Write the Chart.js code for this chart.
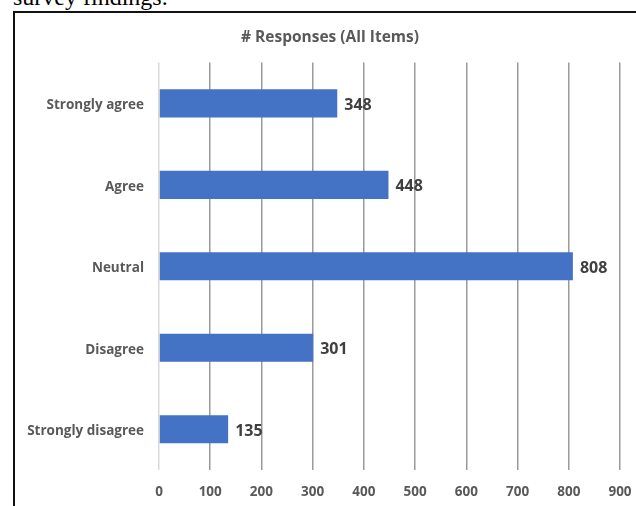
<!DOCTYPE html>
<html>
<head>
<meta charset="utf-8">
<script src="https://cdn.jsdelivr.net/npm/chart.js@4"></script>
<style>
    html, body { margin: 0; padding: 0; background: #fff; overflow: hidden; }
    body { width: 636px; height: 506px; position: relative; }
    .caption {
        position: absolute; left: 13px; top: -15px;
        font: 24px/1 "Liberation Serif", "Times New Roman", serif;
        color: #000; white-space: nowrap;
    }
    .frame {
        position: absolute; left: 13px; top: 11px; width: 700px; height: 600px;
        border-left: 2px solid #111; border-top: 2px solid #111;
    }
    #chartBox { position: absolute; left: 0; top: 0; width: 636px; height: 506px; }
</style>
</head>
<body>
<div class="caption">survey findings.</div>
<div class="frame"></div>
<div id="chartBox"><canvas id="responsesChart"></canvas></div>

<script>
// Responses chart
const categories = ['Strongly agree', 'Agree', 'Neutral', 'Disagree', 'Strongly disagree'];
const responses = [348, 448, 808, 301, 135];
const xTicks = [0, 100, 200, 300, 400, 500, 600, 700, 800, 900];

const fontFamily = '"Open Sans", Lato, sans-serif';

/* ---------------------------
   VALUE LABELS
---------------------------*/
const valueLabels = {
    id: 'valueLabels',
    afterLayout(chart) {
        // title sits centred on the whole frame, not the padded canvas
        const t = chart.titleBlock;
        if (t) { t.left += 15; t.right += 15; }
    },
    afterDatasetsDraw(chart) {
        const ctx = chart.ctx;
        const meta = chart.getDatasetMeta(0);
        ctx.save();
        ctx.font = 'bold 16px ' + fontFamily;
        ctx.fillStyle = '#404040';
        ctx.textAlign = 'left';
        ctx.textBaseline = 'middle';
        meta.data.forEach((bar, i) => {
            ctx.fillText(responses[i], bar.x + 7, bar.y + 2);
        });
        ctx.restore();
    }
};

function initializeChart() {
    const ctx = document.getElementById('responsesChart');
    if (!ctx) return;

    return new Chart(ctx, {
        type: 'bar',
        data: {
            labels: categories,
            datasets: [{
                label: '# Responses',
                data: responses,
                backgroundColor: '#4472c4',
                borderWidth: 0,
                categoryPercentage: 1,
                barPercentage: 0.345
            }]
        },
        options: {
            indexAxis: 'y',
            responsive: true,
            maintainAspectRatio: false,
            animation: false,
            layout: {
                padding: { left: 10, right: 16, top: 0, bottom: 0 }
            },
            plugins: {
                legend: { display: false },
                tooltip: { enabled: false },
                title: {
                    display: true,
                    text: '# Responses (All Items)',
                    color: '#595959',
                    font: { family: fontFamily, size: 15.5, weight: 'bold' },
                    padding: { top: 28, bottom: 16 }
                }
            },
            scales: {
                x: {
                    min: 0,
                    max: 900,
                    afterBuildTicks: scale => {
                        scale.ticks = xTicks.map(v => ({ value: v }));
                    },
                    afterFit: scale => {
                        scale.height = 36;
                        scale.paddingLeft = 0;
                        scale.paddingRight = 0;
                    },
                    border: { display: false },
                    grid: {
                        drawTicks: false,
                        lineWidth: 1.5,
                        color: c => (c.tick && c.tick.value === 0) ? '#d9d9d9' : '#9a9a9a'
                    },
                    ticks: {
                        padding: 14,
                        color: '#595959',
                        font: { family: fontFamily, size: 13.5, weight: 'bold' }
                    }
                },
                y: {
                    afterFit: scale => { scale.width = 149; },
                    border: { display: false },
                    grid: { display: false },
                    ticks: {
                        padding: 7,
                        labelOffset: 2,
                        color: '#595959',
                        font: { family: fontFamily, size: 13.5, weight: 'bold' }
                    }
                }
            }
        },
        plugins: [valueLabels]
    });
}

initializeChart();
</script>
</body>
</html>
